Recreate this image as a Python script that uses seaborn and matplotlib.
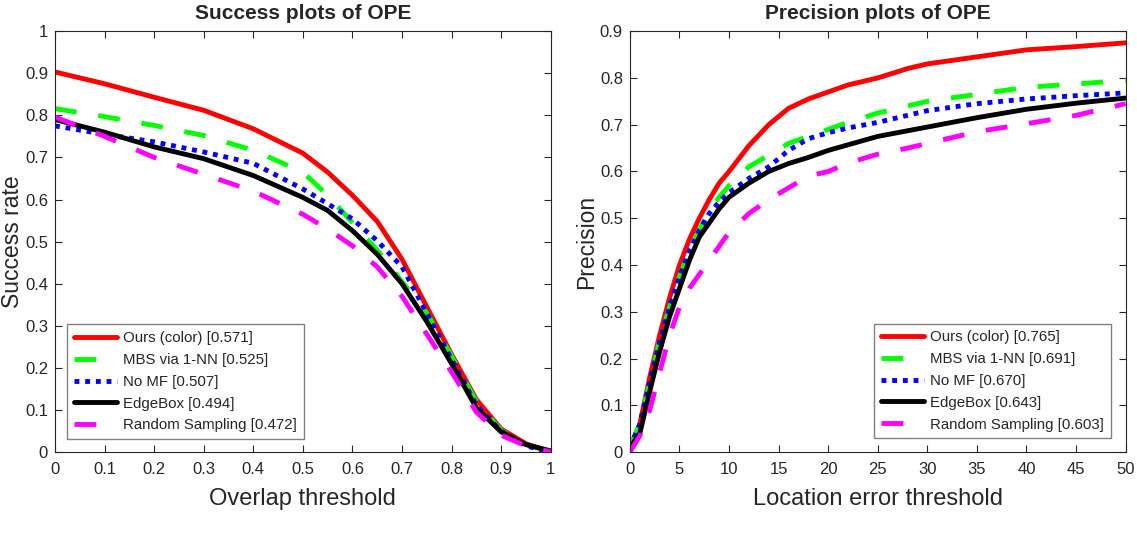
import seaborn as sns
import matplotlib.pyplot as plt
import pandas as pd

# success plot data (overlap threshold)
overlap = [0, 0.1, 0.2, 0.3, 0.4, 0.5, 0.55, 0.6, 0.65, 0.7, 0.75, 0.8, 0.85, 0.9, 0.95, 1.0]
succ_ours = [0.903, 0.875, 0.843, 0.812, 0.768, 0.71, 0.665, 0.61, 0.548, 0.458, 0.345, 0.232, 0.125, 0.055, 0.02, 0.0]
succ_mbs = [0.816, 0.797, 0.776, 0.752, 0.717, 0.665, 0.61, 0.545, 0.48, 0.405, 0.33, 0.228, 0.12, 0.052, 0.018, 0.0]
succ_nomf = [0.775, 0.755, 0.737, 0.713, 0.686, 0.625, 0.59, 0.554, 0.502, 0.44, 0.33, 0.22, 0.112, 0.05, 0.015, 0.0]
succ_edge = [0.79, 0.76, 0.725, 0.697, 0.657, 0.605, 0.574, 0.526, 0.47, 0.40, 0.31, 0.21, 0.105, 0.048, 0.018, 0.003]
succ_rand = [0.796, 0.75, 0.70, 0.66, 0.62, 0.565, 0.53, 0.49, 0.44, 0.37, 0.28, 0.19, 0.095, 0.04, 0.015, 0.0]

# precision plot data (location error threshold)
loc = [0, 1, 2, 3, 4, 5, 6, 7, 8, 9, 10, 12, 14, 16, 18, 20, 22, 25, 28, 30, 35, 40, 45, 50]
prec_ours = [0.01, 0.06, 0.16, 0.25, 0.33, 0.40, 0.455, 0.50, 0.54, 0.575, 0.60, 0.655, 0.70, 0.735, 0.755, 0.77, 0.785, 0.80, 0.82, 0.83, 0.845, 0.86, 0.867, 0.875]
prec_mbs = [0.01, 0.06, 0.15, 0.24, 0.31, 0.375, 0.43, 0.475, 0.515, 0.545, 0.57, 0.61, 0.635, 0.66, 0.675, 0.69, 0.705, 0.725, 0.74, 0.75, 0.765, 0.78, 0.787, 0.795]
prec_nomf = [0.01, 0.06, 0.15, 0.235, 0.31, 0.375, 0.43, 0.475, 0.51, 0.535, 0.555, 0.585, 0.61, 0.645, 0.67, 0.683, 0.693, 0.705, 0.72, 0.73, 0.745, 0.755, 0.762, 0.768]
prec_edge = [0.01, 0.04, 0.13, 0.215, 0.29, 0.35, 0.41, 0.46, 0.49, 0.52, 0.545, 0.575, 0.60, 0.617, 0.63, 0.645, 0.657, 0.675, 0.687, 0.695, 0.715, 0.733, 0.746, 0.757]
prec_rand = [0.0, 0.035, 0.09, 0.17, 0.25, 0.31, 0.35, 0.38, 0.41, 0.44, 0.47, 0.51, 0.54, 0.565, 0.59, 0.60, 0.618, 0.637, 0.65, 0.66, 0.685, 0.702, 0.72, 0.745]

methods = ['Ours (color)', 'MBS via 1-NN', 'No MF', 'EdgeBox', 'Random Sampling']
succ_scores = ['0.571', '0.525', '0.507', '0.494', '0.472']
prec_scores = ['0.765', '0.691', '0.670', '0.643', '0.603']

colors = ['#ff0000', '#00ff00', '#0000ff', '#000000', '#ff00ff']
styles = ['-', (0, (4.5, 4.5)), (0, (1, 1.2)), '-', (0, (4.5, 4.5))]

sns.set_theme(style='ticks')
plt.rcParams['font.family'] = ['Liberation Sans', 'DejaVu Sans']

fig = plt.figure(figsize=(11.37, 5.37), dpi=100)
ax1 = fig.add_axes([0.0484, 0.158, 0.436, 0.784])
ax2 = fig.add_axes([0.554, 0.158, 0.436, 0.784])

succ = [succ_ours, succ_mbs, succ_nomf, succ_edge, succ_rand]
prec = [prec_ours, prec_mbs, prec_nomf, prec_edge, prec_rand]

for i in range(5):
    sns.lineplot(x=overlap, y=succ[i], ax=ax1, color=colors[i], linewidth=3.5,
                 linestyle=styles[i], label=f'{methods[i]} [{succ_scores[i]}]')
    sns.lineplot(x=loc, y=prec[i], ax=ax2, color=colors[i], linewidth=3.5,
                 linestyle=styles[i], label=f'{methods[i]} [{prec_scores[i]}]')

ax1.set_xlim(0, 1)
ax1.set_ylim(0, 1)
ax1.set_xticks([i / 10 for i in range(11)])
ax1.set_yticks([i / 10 for i in range(11)])
ax1.set_xticklabels(['0'] + [f'{i / 10:g}' for i in range(1, 10)] + ['1'])
ax1.set_yticklabels(['0'] + [f'{i / 10:g}' for i in range(1, 10)] + ['1'])
ax1.set_xlabel('Overlap threshold', fontsize=17, labelpad=8)
ax1.set_ylabel('Success rate', fontsize=16.5, labelpad=1)
ax1.set_title('Success plots of OPE', fontsize=15, fontweight='bold', pad=9)

ax2.set_xlim(0, 50)
ax2.set_ylim(0, 0.9)
ax2.set_xticks(range(0, 51, 5))
ax2.set_yticks([i / 10 for i in range(10)])
ax2.set_yticklabels(['0'] + [f'{i / 10:g}' for i in range(1, 10)])
ax2.set_xlabel('Location error threshold', fontsize=17, labelpad=8)
ax2.set_ylabel('Precision', fontsize=16.5, labelpad=1)
ax2.set_title('Precision plots of OPE', fontsize=15, fontweight='bold', pad=9)

for ax in (ax1, ax2):
    ax.tick_params(direction='in', top=True, right=True, labelsize=12, length=5,
                   colors='#262626', width=0.8)
    ax.tick_params(axis='x', pad=7)
    ax.tick_params(axis='y', pad=5)
    for s in ax.spines.values():
        s.set_color('#262626')
        s.set_linewidth(0.8)

leg_kw = dict(fontsize=10.8, frameon=True, fancybox=False, edgecolor='#808080',
              framealpha=1, handlelength=2.9, labelspacing=0.52, borderpad=0.45,
              handletextpad=0.4, borderaxespad=0)
ax1.legend(loc='lower left', bbox_to_anchor=(0.024, 0.031), **leg_kw)
ax2.legend(loc='lower right', bbox_to_anchor=(0.970, 0.033), **leg_kw)

fig.savefig('out.png', dpi=100)
